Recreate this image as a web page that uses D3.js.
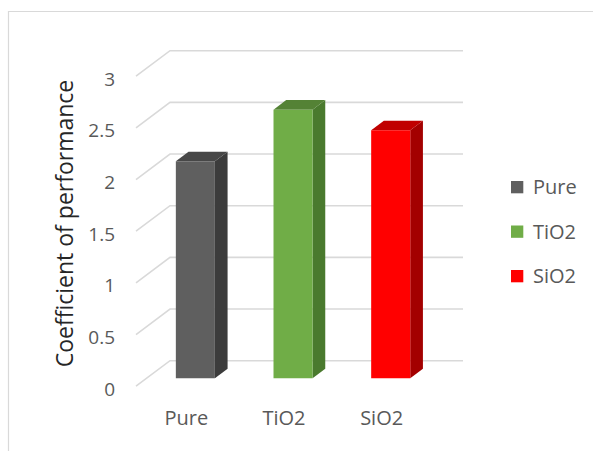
<!DOCTYPE html>
<html><head><meta charset="utf-8">
<script src="https://cdn.jsdelivr.net/npm/d3@7"></script>
<style>body{margin:0;background:#fff}svg{display:block}text{font-family:"Open Sans",sans-serif}</style>
</head><body>
<script>
const categories = ["Pure", "TiO2", "SiO2"];
const values = [2.1, 2.6, 2.4];
const yTicks = [0, 0.5, 1, 1.5, 2, 2.5, 3];
const yTitle = "Coefficient of performance";
const frontColors = ["#5f5f5f", "#70ad47", "#ff0000"];
const sideColors = ["#3c3c3c", "#4a7a2e", "#a30000"];
const topColors = ["#474747", "#548235", "#c00000"];

const W = 593, H = 451;
const svg = d3.select("body").append("svg").attr("width", W).attr("height", H);

// border
svg.append("path").attr("d", `M8.5,${H+2}V11.5H${W+2}`).attr("fill","none").attr("stroke","#d9d9d9").attr("stroke-width",1.2);

// back-plane scales
const x = d3.scaleBand().domain(categories).range([170, 463]).paddingInner(0).paddingOuter(0);
const y = d3.scaleLinear().domain([0, 3]).range([360.7, 50.7]);
const DX = -34, DY = 25.5; // depth offset (back -> front)
const P = (xb, v, d) => [xb + d * DX, y(v) + d * DY];

// gridlines
const g = svg.append("g");
yTicks.forEach(t => {
  const a = P(170, t, 1), b = P(170, t, 0), c = P(463, t, 0);
  g.append("path").attr("d", `M${a}L${b}L${c}`).attr("fill","none").attr("stroke","#d9d9d9").attr("stroke-width",1.6);
});

// y tick labels
yTicks.forEach(t => {
  const p = P(170, t, 1);
  svg.append("text").attr("x", 115).attr("y", p[1] + 2.5).attr("dy","0.36em")
    .attr("text-anchor","end").attr("font-size",19).attr("fill","#595959").text(t);
});

// bars
const bw = x.bandwidth() * 0.4;
const dFront = 0.69, dBack = 0.317;
categories.forEach((cat, i) => {
  const v = values[i];
  const cx = x(cat) + x.bandwidth() / 2;
  const xl = cx - bw / 2, xr = cx + bw / 2;
  const fTL = P(xl, v, dFront), fTR = P(xr, v, dFront), fBR = P(xr, 0, dFront), fBL = P(xl, 0, dFront);
  const bTL = P(xl, v, dBack), bTR = P(xr, v, dBack), bBR = P(xr, 0, dBack);
  const poly = pts => "M" + pts.map(p => p.join(",")).join("L") + "Z";
  svg.append("path").attr("d", poly([fTR, fBR, bBR, bTR])).attr("fill", sideColors[i]);
  svg.append("path").attr("d", poly([fTL, fTR, bTR, bTL])).attr("fill", topColors[i]);
  svg.append("path").attr("d", poly([fTL, fTR, fBR, fBL])).attr("fill", frontColors[i]);
});

// category labels
categories.forEach(cat => {
  const p = P(x(cat) + x.bandwidth() / 2, 0, 1);
  svg.append("text").attr("x", p[0] + 1.5).attr("y", 425).attr("text-anchor","middle")
    .attr("font-size",20).attr("fill","#595959").text(cat);
});

// y title
svg.append("text").attr("transform","translate(72.5,223.5) rotate(-90)").attr("text-anchor","middle")
  .attr("font-size",23).attr("fill","#262626").text(yTitle);

// legend
categories.forEach((cat, i) => {
  const yy = 181 + i * 44.5;
  svg.append("rect").attr("x",511).attr("y",yy).attr("width",12.3).attr("height",12.3).attr("fill",frontColors[i]);
  svg.append("text").attr("x",533).attr("y",yy + 6.2).attr("dy","0.36em").attr("font-size",20).attr("fill","#595959").text(cat);
});
</script>
</body></html>
